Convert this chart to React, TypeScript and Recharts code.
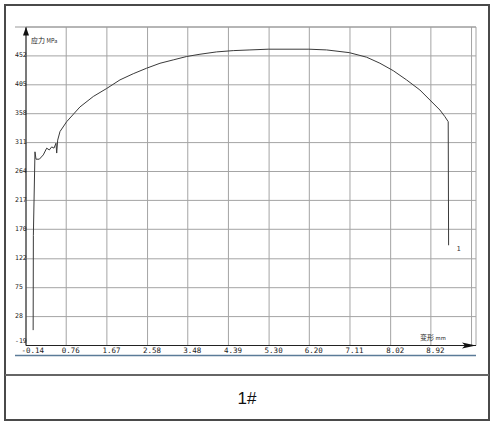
import { CartesianGrid, Line, LineChart, XAxis, YAxis } from 'recharts';

// strain (mm)
const strain = [
    0.02, 0.025, 0.061, 0.084, 0.158, 0.247, 0.323, 0.381, 0.435, 0.486, 0.531,
    0.547, 0.569, 0.621, 0.77, 1.068, 1.366, 1.665, 1.963, 2.26, 2.56, 2.858,
    3.155, 3.455, 3.753, 4.126, 4.498, 4.871, 5.28, 6.19, 6.587, 7.093, 7.482,
    7.779, 8.077, 8.377, 8.674, 8.898, 9.122, 9.234, 9.308, 9.317,
];
// stress (MPa)
const stress = [
    6, 160, 296, 284, 284, 291, 302, 299, 304, 302, 310, 294, 315, 329, 345, 369,
    386, 399, 413, 423, 432, 440, 445.5, 451, 454.7, 458.5, 460.6, 461.7, 462.9,
    462.9, 461.7, 457.3, 449.9, 440.1, 428, 412.9, 396.6, 380.3, 364, 353.2, 345,
    144,
];

const xTicks = [-0.14, 0.76, 1.67, 2.58, 3.48, 4.39, 5.3, 6.2, 7.11, 8.02, 8.92, 9.83];
const xLabels = ['-0.14', '0.76', '1.67', '2.58', '3.48', '4.39', '5.30', '6.20', '7.11', '8.02', '8.92', ''];
const yTicks = [-19, 28, 75, 122, 170, 217, 264, 311, 358, 405, 452, 499];
const yLabels = ['-19', '28', '75', '122', '170', '217', '264', '311', '358', '405', '452', ''];

const data = strain.map((s, i) => ({ s, v: stress[i] }));

const tickFont = 'DejaVu Sans Mono, monospace';

const XTick = (props: any) => {
    const { x, index } = props;
    return (
        <text x={x - 4.5} y={353} textAnchor="start" fontSize={7.5} fontFamily={tickFont} fill="#222">
            {xLabels[index]}
        </text>
    );
};

const YTick = (props: any) => {
    const { y, index } = props;
    // the lowest label sits a little above the axis, as in the reference
    const dy = index === 0 ? -5 : -0.5;
    return (
        <text x={15} y={y + dy} textAnchor="start" dominantBaseline="central" fontSize={6.5} fontFamily={tickFont} fill="#222">
            {yLabels[index]}
        </text>
    );
};

export default function App() {
    return (
        <div style={{ position: 'absolute', left: 0, top: 0, width: 494, height: 427, background: '#fff' }}>
            <div
                style={{
                    position: 'absolute',
                    left: 4,
                    top: 4,
                    width: 486,
                    height: 417,
                    border: '2px solid #4a4a4a',
                    boxSizing: 'border-box',
                }}
            />
            <div style={{ position: 'absolute', left: 5, top: 374, width: 484, height: 1.5, background: '#666' }} />
            <div
                style={{
                    position: 'absolute',
                    left: 0,
                    top: 388,
                    width: 494,
                    textAlign: 'center',
                    fontFamily: 'Liberation Sans, Arial, sans-serif',
                    fontSize: 17,
                    lineHeight: '22px',
                    color: '#111',
                }}
            >
                1#
            </div>

            <div style={{ position: 'absolute', left: 0, top: 0 }}>
                <LineChart
                    width={494}
                    height={427}
                    data={data}
                    margin={{ top: 27, right: 18, bottom: 61.5, left: 0 }}
                >
                    <CartesianGrid stroke="#a4a4a4" strokeWidth={1} />
                    <XAxis
                        dataKey="s"
                        type="number"
                        domain={[-0.14, 9.93]}
                        ticks={xTicks}
                        tick={<XTick />}
                        tickLine={false}
                        axisLine={{ stroke: '#222', strokeWidth: 1 }}
                        height={20}
                        interval={0}
                        allowDataOverflow
                    />
                    <YAxis
                        type="number"
                        domain={[-19, 499]}
                        ticks={yTicks}
                        tick={<YTick />}
                        tickLine={false}
                        axisLine={{ stroke: '#222', strokeWidth: 1 }}
                        width={26}
                        interval={0}
                        allowDataOverflow
                    />
                    <Line
                        type="linear"
                        dataKey="v"
                        stroke="#3a3a3a"
                        strokeWidth={1}
                        dot={false}
                        isAnimationActive={false}
                    />
                </LineChart>
            </div>

            <svg
                width={494}
                height={427}
                style={{ position: 'absolute', left: 0, top: 0, pointerEvents: 'none' }}
            >
                <line x1={15} y1={27} x2={476} y2={27} stroke="#999" strokeWidth={1.2} />
                <line x1={15} y1={355.5} x2={476} y2={355.5} stroke="#5b7b98" strokeWidth={1.3} />
                <polygon points="26,27 23,35.5 29,35.5" fill="#111" />
                <polygon points="476,345.5 462,342.5 465,345.5 462,348.5" fill="#111" />
                <text x={31} y={43} fontSize={7} fontFamily="Noto Sans CJK SC, sans-serif" fill="#222">
                    应力 <tspan fontSize={5.5}>MPa</tspan>
                </text>
                <text x={420} y={340} fontSize={7} fontFamily="Noto Sans CJK SC, sans-serif" fill="#222">
                    变形 <tspan fontSize={5.5}>mm</tspan>
                </text>
                <text x={456.5} y={251} fontSize={7} fontFamily={tickFont} fill="#333">
                    1
                </text>
            </svg>
        </div>
    );
}
